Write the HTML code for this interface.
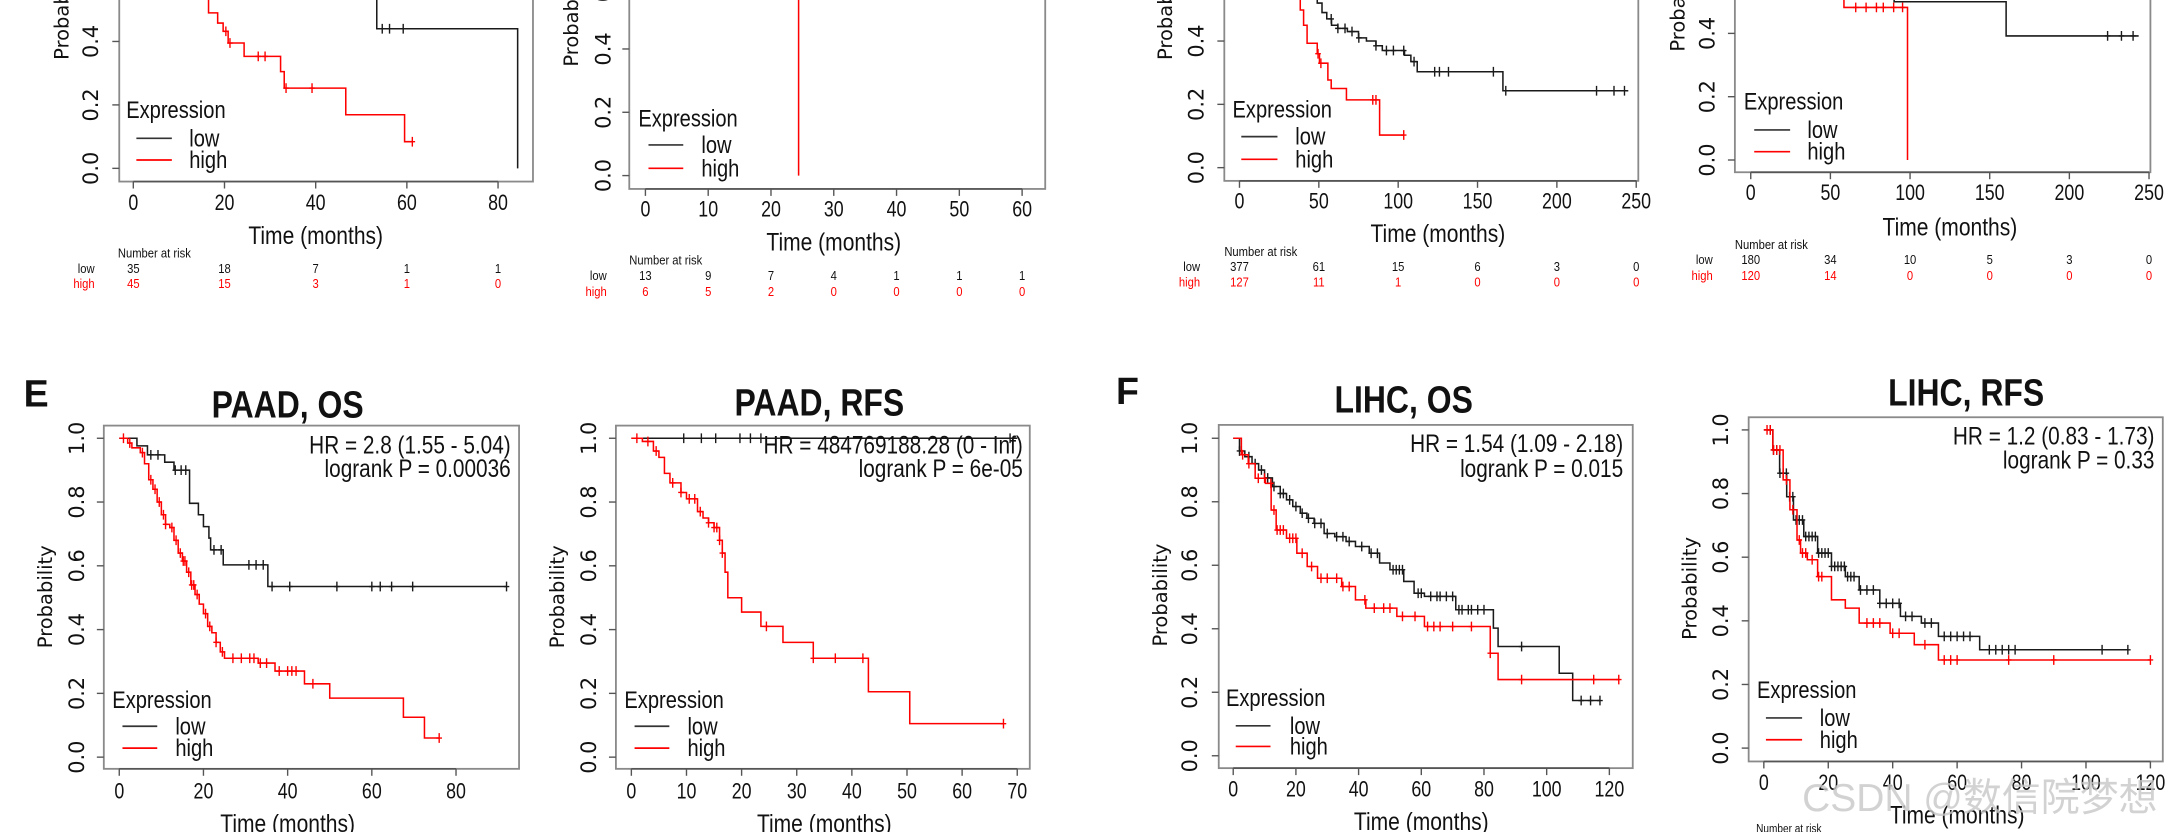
<!DOCTYPE html>
<html><head><meta charset="utf-8"><style>
html,body{margin:0;padding:0;background:#fff;overflow:hidden}
svg{display:block}
text{font-family:"Liberation Sans","DejaVu Sans",sans-serif}
</style></head><body>
<svg id="fig" xmlns="http://www.w3.org/2000/svg" width="2182" height="832" viewBox="0 0 1568 598" preserveAspectRatio="none"></svg>
<script>
// ---------- DATA ----------
const P1_TICKS=[0,20,40,60,80];
const P1_LOW_T=[0,20,35,53.4,84.3];
const P1_LOW_S=[1,0.8,0.6,0.44,0];
const P1_LOW_C=[54.6,56.2,59.2];
const P1_HIGH_T=[0,5,10,16.5,18.5,19.7,20.8,24.3,32.3,33.1,46.6,59.5];
const P1_HIGH_S=[1,0.85,0.7,0.49,0.458,0.432,0.395,0.353,0.305,0.253,0.169,0.084];
const P1_HIGH_C=[20.3,21.2,27.4,28.9,33.5,39.2,61.2];
const P1_RISK_LOW=[35,18,7,1,1];
const P1_RISK_HIGH=[45,15,3,1,0];

const P2_TICKS=[0,10,20,30,40,50,60];
const P2_LOW_T=[0];
const P2_LOW_S=[1];
const P2_LOW_C=[];
const P2_HIGH_T=[0,24.4];
const P2_HIGH_S=[1,0];
const P2_HIGH_C=[];
const P2_RISK_LOW=[13,9,7,4,1,1,1];
const P2_RISK_HIGH=[6,5,2,0,0,0,0];

const P3_TICKS=[0,50,100,150,200,250];
const P3_LOW_T=[0,20,40,49,52,55,58,62,68,75,80,86,90,104,108,112,166];
const P3_LOW_S=[1,0.8,0.6,0.52,0.49,0.47,0.45,0.44,0.43,0.41,0.40,0.385,0.37,0.355,0.335,0.303,0.243];
const P3_LOW_C=[57.8,62,66.5,70.9,75.2,86,92.6,97,103.5,110,123,126,131.7,160,167.8,225,236,242.6];
const P3_HIGH_T=[0,20,33.9,38.3,40.4,42.6,49,50.4,55.7,57.8,67.4,88.3];
const P3_HIGH_S=[1,0.8,0.55,0.498,0.45,0.393,0.36,0.33,0.277,0.25,0.214,0.103];
const P3_HIGH_C=[36,38,49.5,51.3,84,86,103.5];
const P3_RISK_LOW=[377,61,15,6,3,0];
const P3_RISK_HIGH=[127,11,1,0,0,0];

const P4_TICKS=[0,50,100,150,200,250];
const P4_LOW_T=[0,40,90,160.3];
const P4_LOW_S=[1,0.7,0.5,0.392];
const P4_LOW_C=[224,232.7,240];
const P4_HIGH_T=[0,40,58.5,98.4];
const P4_HIGH_S=[1,0.7,0.482,0];
const P4_HIGH_C=[65.9,72.4,78.9,83.2,89.7,95.3];
const P4_RISK_LOW=[180,34,10,5,3,0];
const P4_RISK_HIGH=[120,14,0,0,0,0];

const E1_TICKS=[0,20,40,60,80];
const E1_LOW_T=[0,4.2,6.7,10.8,13,16.7,18.8,20,21.3,21.7,24.7,35.3];
const E1_LOW_S=[1,0.976,0.948,0.925,0.90,0.796,0.76,0.723,0.687,0.65,0.603,0.535];
const E1_LOW_C=[7.5,9.2,13.3,14.7,15.8,22.5,24.2,30.8,32.5,34.2,36.3,40.5,51.7,60,62,64.7,69.7,92];
const E1_HIGH_T=[0,2,3,5,6,7,8,9,10,11,12,13,14,15,16,17,18,19,20,21,22,23,24,25,33,37,44,50,67.5,72.5];
const E1_HIGH_S=[1,0.985,0.97,0.955,0.92,0.87,0.84,0.80,0.76,0.73,0.72,0.68,0.64,0.615,0.58,0.54,0.51,0.48,0.45,0.41,0.39,0.36,0.33,0.31,0.295,0.27,0.23,0.185,0.125,0.06];
const E1_HIGH_C=[1,2.5,5.5,7.5,8.5,9.5,10.5,11,12.5,13.5,14.5,15.2,15.6,16.5,17.2,17.7,18.5,20.5,21.5,23,24.5,27,29,31,32,33.5,35,38,40,41,42,46,76];

const E2_TICKS=[0,10,20,30,40,50,60,70];
const E2_LOW_T=[0];
const E2_LOW_S=[1];
const E2_LOW_C=[9.5,12.7,15.3,19.7,21.6,23.5,68.7];
const E2_HIGH_T=[0,2,4,5,6,7,9,10,12,13,14,15,16,16.5,17,17.5,20,23.5,27.5,33,43,50.5];
const E2_HIGH_S=[1,0.99,0.96,0.94,0.89,0.86,0.83,0.81,0.77,0.75,0.735,0.72,0.68,0.64,0.58,0.5,0.455,0.41,0.36,0.31,0.205,0.105];
const E2_HIGH_C=[1,3,4.5,7.5,9,10.5,11.5,12.5,14,15,15.5,16,16.5,24.5,33,37,42,67.5];

const F1_TICKS=[0,20,40,60,80,100,120];
const F1_LOW_T=[0,2,3.7,6,8.1,10,12.5,15,17,19,21.4,23.5,25.8,29,32.4,36,39,43.4,46.7,50,54.4,57.7,61,71,83,84.5,104,108.3];
const F1_LOW_S=[1,0.96,0.942,0.92,0.90,0.875,0.848,0.826,0.806,0.785,0.764,0.748,0.732,0.70,0.69,0.675,0.659,0.638,0.607,0.586,0.549,0.512,0.502,0.46,0.402,0.344,0.26,0.174];
const F1_LOW_C=[2,5,7,9,11,13,15,16,18,20,22,24,26,28,30,33,35,37,41,44,46,51,52,53,54,59,60,63,65,66,68,70,72,73,75,76,78,80,92,111,114,117];
const F1_HIGH_T=[0,2.6,4.8,7,10.3,12.1,13.7,17,20.3,23.6,26.9,34.6,39,42.3,52.2,61,82,84.5];
const F1_HIGH_S=[1,0.948,0.92,0.874,0.858,0.774,0.711,0.685,0.638,0.596,0.559,0.533,0.491,0.465,0.439,0.407,0.323,0.24];
const F1_HIGH_C=[3,5,8,10,12,13,14,15,16,18,19,20,22,25,28,30,33,35,37,42,45,48,50,54,58,62,64,66,70,76,82,92,115,123];

const F2_TICKS=[0,20,40,60,80,100,120];
const F2_LOW_T=[0,2.8,4.9,7.1,9.2,12.4,16.7,21,25.3,29.6,36,42.4,48.9,54.2,67];
const F2_LOW_S=[1,0.937,0.864,0.79,0.717,0.665,0.613,0.571,0.539,0.497,0.455,0.414,0.393,0.351,0.309];
const F2_LOW_C=[2,3,4,5,6,7,8,9,10,11,12,13,14,15,16,17,18,19,20,21,22,23,24,25,26,27,28,30,32,34,36,38,40,42,44,46,50,52,56,58,60,62,64,70,72,74,76,78,105,113];
const F2_HIGH_T=[0,2.8,6,8.1,10.3,11.4,13.5,16.7,21,25.3,29.6,39.2,46.7,54.2];
const F2_HIGH_S=[1,0.937,0.843,0.749,0.654,0.613,0.592,0.539,0.466,0.44,0.393,0.361,0.325,0.277];
const F2_HIGH_C=[1,2,3,4,5,7,9,11,12,13,15,17,18,32,34,36,40,42,50,56,58,60,76,90,120];

// ---------- LAYOUT ----------
const NS='http://www.w3.org/2000/svg';
const svg=document.getElementById('fig');
function mk(tag,attrs,parent){const e=document.createElementNS(NS,tag);for(const k in attrs)e.setAttribute(k,attrs[k]);(parent||svg).appendChild(e);return e;}
function txt(parent,x,y,s,size,opts,name){
  opts=opts||{};
  const g=mk('g',{transform:'translate('+x+','+y+')'+(opts.rot?' rotate(-90)':'')+' scale('+(opts.sx||1)+',1)'},parent);
  const el=mk('text',{x:0,y:0,'font-size':size,'text-anchor':opts.anchor||'start','dominant-baseline':opts.base||'central',fill:opts.fill||'#111','font-weight':opts.bold?'bold':'normal'},g);
  if(opts.family)el.setAttribute('style','font-family:'+opts.family);
  el.textContent=s;
  
  
  return el;
}
function stepPath(T,S,end,xs,ys){
  let d='M'+xs(T[0])+','+ys(S[0]);
  for(let i=1;i<T.length;i++){d+=' H'+xs(T[i])+' V'+ys(S[i]);}
  d+=' H'+xs(end);return d;
}
function survAt(T,S,t){let v=S[0];for(let i=0;i<T.length;i++){if(T[i]<=t)v=S[i];}return v;}

let clipId=0;
function drawPanel(c){
  const g=mk('g',{});
  
  
  const xs=t=>c.x0+t*(c.xm-c.x0)/c.xmax;
  const ys=s=>c.y0+s*(c.y1-c.y0);
  const [bl,bt,br,bb]=c.box;
  const box=mk('rect',{x:bl,y:bt,width:br-bl,height:bb-bt,fill:'none',stroke:'#8a8a8a','stroke-width':1.3},g);
  
  
  clipId++;const cp=mk('clipPath',{id:'cp'+clipId},g);mk('rect',{x:bl,y:bt,width:br-bl,height:bb-bt},cp);
  const ax=mk('g',{},g);
  
  
  mk('line',{x1:xs(c.ticks[0]),x2:xs(c.ticks[c.ticks.length-1]),y1:bb,y2:bb,stroke:'#555','stroke-width':1.2},ax);
  c.ticks.forEach(v=>{
    mk('line',{x1:xs(v),x2:xs(v),y1:bb,y2:bb+5,stroke:'#555','stroke-width':1},ax);
    txt(ax,xs(v),c.xty,String(v),16,{anchor:'middle',sx:0.8},'x-tick-label');
  });
  txt(g,(c.x0+c.xm)/2,c.timey,'Time (months)',18,{anchor:'middle',sx:0.84},'x-axis-title');
  const ay=mk('g',{},g);
  
  
  [0,0.2,0.4,0.6,0.8,1.0].forEach(v=>{
    mk('line',{x1:bl,x2:bl-5,y1:ys(v),y2:ys(v),stroke:'#555','stroke-width':1},ay);
    txt(ay,c.ytx,ys(v),v.toFixed(1),15,{anchor:'middle',rot:true,family:'"DejaVu Sans",sans-serif'},'y-tick-label');
  });
  txt(g,c.ylx,c.yly,'Probability',14,{anchor:'start',rot:true,family:'"DejaVu Sans",sans-serif'},'y-axis-title');
  const cg=mk('g',{'clip-path':'url(#cp'+clipId+')'},g);
  [['low',c.lowT,c.lowS,c.lowEnd,c.lowC,'#1a1a1a'],['high',c.highT,c.highS,c.highEnd,c.highC,'#ff0000']].forEach(a=>{
    const p=mk('path',{d:stepPath(a[1],a[2],a[3],xs,ys),fill:'none',stroke:a[5],'stroke-width':1.1},cg);
    
    
    a[4].forEach(t=>{
      const s=survAt(a[1],a[2],t);
      const m=mk('path',{d:'M'+xs(t)+','+(ys(s)-3.5)+' V'+(ys(s)+3.5)+' M'+(xs(t)-2)+','+ys(s)+' H'+(xs(t)+2),stroke:a[5],'stroke-width':1,fill:'none'},cg);
      
      
    });
  });
  const lg=mk('g',{},g);
  
  
  txt(lg,c.leg[0],c.leg[1],'Expression',17,{sx:0.85},'legend-title');
  mk('line',{x1:c.leg[4],x2:c.leg[5],y1:c.leg[2],y2:c.leg[2],stroke:'#333','stroke-width':1.2},lg);
  txt(lg,c.leg[6],c.leg[2],'low',17,{sx:0.85},'legend-entry-low');
  mk('line',{x1:c.leg[4],x2:c.leg[5],y1:c.leg[3],y2:c.leg[3],stroke:'#f00','stroke-width':1.2},lg);
  txt(lg,c.leg[6],c.leg[3],'high',17,{sx:0.85},'legend-entry-high');
  if(c.title){
    txt(g,c.title[0],c.title[1],c.title[2],27,{anchor:'middle',bold:true,sx:0.85},'panel-title');
    txt(g,c.hr[0],c.hr[1],c.hr[3],18,{anchor:'end',sx:0.83},'hazard-ratio-text');
    txt(g,c.hr[0],c.hr[2],c.hr[4],18,{anchor:'end',sx:0.83},'logrank-p-text');
  }
  if(c.risk){
    const rg=mk('g',{},g);
    
    
    txt(rg,c.risk[0],c.risk[1],'Number at risk',9.5,{sx:0.85},'risk-table-title');
    txt(rg,c.risk[4],c.risk[2],'low',9.5,{anchor:'end',sx:0.85},'risk-row-label-low');
    txt(rg,c.risk[4],c.risk[3],'high',9.5,{anchor:'end',sx:0.85,fill:'#f00'},'risk-row-label-high');
    c.ticks.forEach((v,i)=>{
      txt(rg,xs(v),c.risk[2],String(c.riskLow[i]),9.5,{anchor:'middle',sx:0.85},'risk-count-low');
      txt(rg,xs(v),c.risk[3],String(c.riskHigh[i]),9.5,{anchor:'middle',sx:0.85,fill:'#f00'},'risk-count-high');
    });
  }
}

const panels=[
 {name:'panel-top-1',box:[85.7,-60,383,130.5],x0:95.8,xm:357.9,xmax:80,y0:121,y1:-107,ticks:P1_TICKS,xty:146,timey:169,ytx:65.5,ylx:44.4,yly:43,
  lowT:P1_LOW_T,lowS:P1_LOW_S,lowEnd:84.3,lowC:P1_LOW_C,highT:P1_HIGH_T,highS:P1_HIGH_S,highEnd:61.2,highC:P1_HIGH_C,
  leg:[90.7,79,99.4,115,98,123.5,136],risk:[84.7,182,193,204,68],riskLow:P1_RISK_LOW,riskHigh:P1_RISK_HIGH},
 {name:'panel-top-2',box:[452.2,-60,751.1,135.8],x0:463.8,xm:734.5,xmax:60,y0:126.2,y1:-101.3,ticks:P2_TICKS,xty:151,timey:173.7,ytx:433.5,ylx:410.8,yly:47.9,
  lowT:P2_LOW_T,lowS:P2_LOW_S,lowEnd:60,lowC:P2_LOW_C,highT:P2_HIGH_T,highS:P2_HIGH_S,highEnd:24.4,highC:P2_HIGH_C,
  leg:[458.7,85,104.2,121,466,491,504],risk:[452.2,187,198,209.6,436],riskLow:P2_RISK_LOW,riskHigh:P2_RISK_HIGH},
 {name:'panel-top-3',box:[879.8,-60,1177.3,130],x0:890.7,xm:1175.8,xmax:250,y0:120.5,y1:-107,ticks:P3_TICKS,xty:145,timey:167.7,ytx:859.9,ylx:837.6,yly:43.1,
  lowT:P3_LOW_T,lowS:P3_LOW_S,lowEnd:245,lowC:P3_LOW_C,highT:P3_HIGH_T,highS:P3_HIGH_S,highEnd:103.5,highC:P3_HIGH_C,
  leg:[885.7,78.6,98.2,114.5,892,918,930.8],risk:[879.8,181,191.6,203,862.4],riskLow:P3_RISK_LOW,riskHigh:P3_RISK_HIGH},
 {name:'panel-top-4',box:[1246.7,-60,1545.3,123.8],x0:1258.1,xm:1544.3,xmax:250,y0:115,y1:-112.5,ticks:P4_TICKS,xty:139,timey:163,ytx:1226.9,ylx:1206,yly:37.1,
  lowT:P4_LOW_T,lowS:P4_LOW_S,lowEnd:243.5,lowC:P4_LOW_C,highT:P4_HIGH_T,highS:P4_HIGH_S,highEnd:98.4,highC:P4_HIGH_C,
  leg:[1253.2,73,93.4,109,1260.6,1286.4,1298.8],risk:[1246.7,176,186.8,198,1230.8],riskLow:P4_RISK_LOW,riskHigh:P4_RISK_HIGH},
 {name:'panel-paad-os',box:[74.6,305.9,373,552.6],x0:85.7,xm:327.7,xmax:80,y0:544.2,y1:315,ticks:E1_TICKS,xty:569,timey:591.6,ytx:55.5,ylx:32.8,yly:465.9,
  lowT:E1_LOW_T,lowS:E1_LOW_S,lowEnd:92,lowC:E1_LOW_C,highT:E1_HIGH_T,highS:E1_HIGH_S,highEnd:76,highC:E1_HIGH_C,
  leg:[80.7,503,522,537.7,88,113,126],title:[206.7,291,'PAAD, OS'],hr:[367,319.8,336.5,'HR = 2.8 (1.55 - 5.04)','logrank P = 0.00036']},
 {name:'panel-paad-rfs',box:[442.6,305.9,740,552.6],x0:453.7,xm:731,xmax:70,y0:544.2,y1:315,ticks:E2_TICKS,xty:569,timey:591.6,ytx:423.4,ylx:400.8,yly:465.9,
  lowT:E2_LOW_T,lowS:E2_LOW_S,lowEnd:70,lowC:E2_LOW_C,highT:E2_HIGH_T,highS:E2_HIGH_S,highEnd:67.5,highC:E2_HIGH_C,
  leg:[448.7,503,522,537.7,456,481,494],title:[588.8,289.8,'PAAD, RFS'],hr:[735,319.8,336.5,'HR = 484769188.28 (0 - Inf)','logrank P = 6e-05']},
 {name:'panel-lihc-os',box:[875.8,305.4,1173.3,552.1],x0:886.2,xm:1156.5,xmax:120,y0:543.2,y1:315,ticks:F1_TICKS,xty:567.7,timey:590.4,ytx:855,ylx:834.1,yly:464.7,
  lowT:F1_LOW_T,lowS:F1_LOW_S,lowEnd:117,lowC:F1_LOW_C,highT:F1_HIGH_T,highS:F1_HIGH_S,highEnd:123,highC:F1_HIGH_C,
  leg:[881,501.8,521.7,536.5,888,913,926.9],title:[1008.7,287.4,'LIHC, OS'],hr:[1166.4,318.6,336.5,'HR = 1.54 (1.09 - 2.18)','logrank P = 0.015']},
 {name:'panel-lihc-rfs',box:[1256.6,299.9,1554.2,547.3],x0:1267.5,xm:1545.3,xmax:120,y0:537.7,y1:309,ticks:F2_TICKS,xty:562.9,timey:585.6,ytx:1236.8,ylx:1214.5,yly:459.9,
  lowT:F2_LOW_T,lowS:F2_LOW_S,lowEnd:113,lowC:F2_LOW_C,highT:F2_HIGH_T,highS:F2_HIGH_S,highEnd:120,highC:F2_HIGH_C,
  leg:[1262.6,495.8,516,531.7,1269,1295,1307.7],title:[1412.9,282.6,'LIHC, RFS'],hr:[1548.2,313.3,330.5,'HR = 1.2 (0.83 - 1.73)','logrank P = 0.33']}
];
panels.forEach(drawPanel);
txt(svg,17,283,'E',27,{bold:true},'panel-label-e');
txt(svg,802,281,'F',27,{bold:true},'panel-label-f');
txt(svg,1262,596,'Number at risk',8.5,{sx:0.85},'risk-table-title-cut');
const wm=txt(svg,1295,574,'CSDN @数信院梦想',28,{fill:'#c8c8c8',family:'"Liberation Sans","Noto Sans CJK SC",sans-serif'},'watermark');
wm.setAttribute('opacity','0.8');
</script>
</body></html>
